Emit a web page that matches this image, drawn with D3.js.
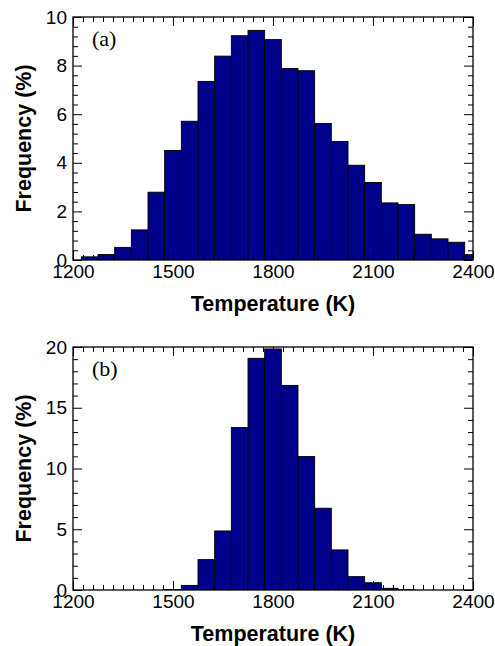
<!DOCTYPE html>
<html>
<head>
<meta charset="utf-8">
<script src="https://cdn.jsdelivr.net/npm/d3@7"></script>
<style>
  html, body { margin: 0; padding: 0; background: #fff; }
  svg { display: block; }
</style>
</head>
<body>
<script>
// ---- data ----
const binCenters = [1250,1300,1350,1400,1450,1500,1550,1600,1650,1700,1750,1800,
                    1850,1900,1950,2000,2050,2100,2150,2200,2250,2300,2350,2400];
const binWidth = 50;
const freqA = [0.13,0.23,0.52,1.24,2.79,4.51,5.71,7.35,8.39,9.23,9.45,9.07,
               7.88,7.79,5.62,4.88,3.90,3.19,2.35,2.28,1.06,0.87,0.73,0.22];
const freqB = [0,0,0,0,0,0.03,0.38,2.50,4.86,13.38,19.07,19.84,
               16.84,10.99,6.73,3.30,1.10,0.60,0.14,0.02,0,0,0,0];
const xMajorTicks = [1200,1500,1800,2100,2400];
const yTicksA = [0,2,4,6,8,10];
const yTicksB = [0,5,10,15,20];
const panels = [
  {label:"(a)", values:freqA, yMax:10, yTicks:yTicksA, yMinorStep:0.4, top:17, bottom:260},
  {label:"(b)", values:freqB, yMax:20, yTicks:yTicksB, yMinorStep:1, top:347, bottom:590}
];
const xLabel = "Temperature (K)";
const yLabel = "Frequency (%)";

// ---- layout ----
const W = 495, H = 646;
const left = 73, right = 473;
const sansFont = "'Liberation Sans', Arial, Helvetica, sans-serif";
const svg = d3.select("body").append("svg").attr("width", W).attr("height", H);

const x = d3.scaleLinear().domain([1200, 2400]).range([left, right]);
const xMinor = d3.range(1200, 2401, 30).filter(v => !xMajorTicks.includes(v));

panels.forEach((p, i) => {
  const y = d3.scaleLinear().domain([0, p.yMax]).range([p.bottom, p.top]);
  const g = svg.append("g");
  const clipId = "clip" + i;
  svg.append("clipPath").attr("id", clipId).append("rect")
    .attr("x", left).attr("y", p.top).attr("width", right - left).attr("height", p.bottom - p.top);

  // bars
  g.append("g").attr("clip-path", `url(#${clipId})`)
    .selectAll("rect")
    .data(binCenters.map((c, j) => ({c, v: p.values[j]})).filter(d => d.v > 0))
    .join("rect")
    .attr("x", d => x(d.c - binWidth / 2))
    .attr("width", d => x(d.c + binWidth / 2) - x(d.c - binWidth / 2))
    .attr("y", d => y(d.v))
    .attr("height", d => y(0) - y(d.v))
    .attr("fill", "#00008b")
    .attr("stroke", "#000")
    .attr("stroke-width", 0.9);

  const yMinor = d3.range(0, p.yMax + 1e-9, p.yMinorStep)
    .map(v => +v.toFixed(4)).filter(v => !p.yTicks.includes(v));

  // bottom axis with labels
  const bot = g.append("g").attr("transform", `translate(0,${p.bottom})`)
    .call(d3.axisBottom(x).tickValues(xMajorTicks).tickFormat(d3.format("d"))
      .tickSizeInner(-9).tickSizeOuter(0).tickPadding(5));
  bot.append("g").call(d3.axisBottom(x).tickValues(xMinor).tickFormat("").tickSizeInner(-5).tickSizeOuter(0));
  // top axis
  const top = g.append("g").attr("transform", `translate(0,${p.top})`)
    .call(d3.axisTop(x).tickValues(xMajorTicks).tickFormat("").tickSizeInner(-9).tickSizeOuter(0));
  top.append("g").call(d3.axisTop(x).tickValues(xMinor).tickFormat("").tickSizeInner(-5).tickSizeOuter(0));
  // left axis
  const lft = g.append("g").attr("transform", `translate(${left},0)`)
    .call(d3.axisLeft(y).tickValues(p.yTicks).tickFormat(d3.format("d"))
      .tickSizeInner(-9).tickSizeOuter(0).tickPadding(6));
  lft.append("g").call(d3.axisLeft(y).tickValues(yMinor).tickFormat("").tickSizeInner(-5).tickSizeOuter(0));
  // right axis
  const rgt = g.append("g").attr("transform", `translate(${right},0)`)
    .call(d3.axisRight(y).tickValues(p.yTicks).tickFormat("").tickSizeInner(-9).tickSizeOuter(0));
  rgt.append("g").call(d3.axisRight(y).tickValues(yMinor).tickFormat("").tickSizeInner(-5).tickSizeOuter(0));

  g.selectAll(".domain").remove();
  g.selectAll(".tick line").attr("stroke", "#000").attr("stroke-width", 1);
  g.selectAll(".tick text").attr("font-family", sansFont).attr("font-size", 19).attr("fill", "#000");

  // frame
  g.append("rect").attr("x", left).attr("y", p.top)
    .attr("width", right - left).attr("height", p.bottom - p.top)
    .attr("fill", "none").attr("stroke", "#000").attr("stroke-width", 1.3);

  // panel label
  g.append("text").attr("x", 92).attr("y", p.top + 29)
    .attr("font-family", "'Liberation Serif', 'Times New Roman', serif")
    .attr("font-size", 22).text(p.label);

  // axis titles
  g.append("text").attr("x", (left + right) / 2).attr("y", p.bottom + 51)
    .attr("text-anchor", "middle").attr("font-family", sansFont)
    .attr("font-weight", "bold").attr("font-size", 21.5).text(xLabel);
  g.append("text")
    .attr("transform", `translate(31,${(p.top + p.bottom) / 2}) rotate(-90)`)
    .attr("text-anchor", "middle").attr("font-family", sansFont)
    .attr("font-weight", "bold").attr("font-size", 21.5).text(yLabel);
});
</script>
</body>
</html>
